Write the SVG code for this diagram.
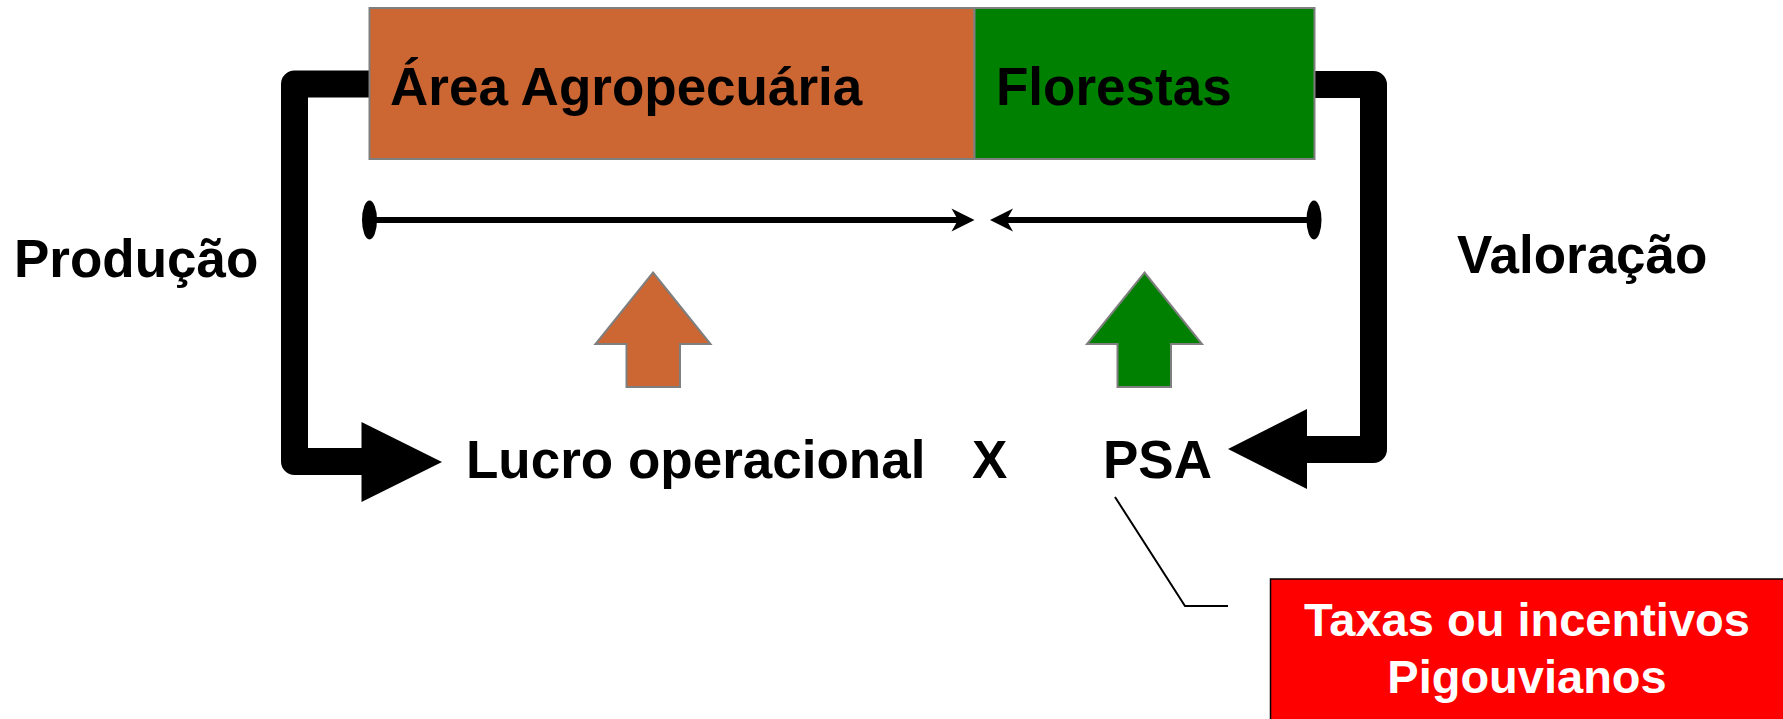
<svg xmlns="http://www.w3.org/2000/svg" width="1783" height="719" viewBox="0 0 1783 719">
<style>
.t{font-family:"Liberation Sans",Arial,sans-serif;font-weight:bold;font-size:53px;fill:#000}
.w{font-family:"Liberation Sans",Arial,sans-serif;font-weight:bold;font-size:47px;fill:#fff}
.box{stroke:#7f7f7f;stroke-width:2}
.thick{fill:none;stroke:#000;stroke-width:27;stroke-linejoin:round;stroke-linecap:butt}
.thin{fill:none;stroke:#000;stroke-width:6}
.up{stroke:#7f7f7f;stroke-width:2}
</style>
<rect width="1783" height="719" fill="#fff"/>
<g id="connectors">
<path class="thick" d="M370 84 H294.5 V461.5 H363"/>
<polygon points="361.5,422 442,462 361.5,502" fill="#000"/>
<path class="thick" d="M1314 84.5 H1373.5 V449.5 H1306"/>
<polygon points="1307,409 1228,449 1307,489" fill="#000"/>
<line class="thin" x1="369.5" y1="220" x2="960" y2="220"/>
<polygon points="974.5,220 951.5,208.5 958,220 951.5,231.5" fill="#000"/>
<ellipse cx="369.5" cy="220" rx="7.5" ry="19.5" fill="#000"/>
<line class="thin" x1="1314" y1="220" x2="1004" y2="220"/>
<polygon points="990,220 1013,208.5 1006.5,220 1013,231.5" fill="#000"/>
<ellipse cx="1314" cy="220" rx="7.5" ry="19.5" fill="#000"/>
<polyline points="1115,497 1185,606 1228,606" fill="none" stroke="#000" stroke-width="2"/>
</g>
<g id="area">
<rect class="box" x="369.5" y="8" width="605" height="151" fill="#cc6633"/>
<text class="t" x="390" y="105">Área Agropecuária</text>
</g>
<g id="florestas">
<rect class="box" x="974.5" y="8" width="340" height="151" fill="#008000"/>
<text class="t" x="996" y="105">Florestas</text>
</g>
<g id="producao"><text class="t" x="14" y="277" font-size="52">Produção</text></g>
<g id="valoracao"><text class="t" x="1457" y="273">Valoração</text></g>
<g id="up-orange"><polygon class="up" fill="#cc6633" points="653,272.5 710.5,344 680,344 680,387 626.5,387 626.5,344 595.5,344"/></g>
<g id="up-green"><polygon class="up" fill="#008000" points="1144.5,272.5 1202,344 1171,344 1171,387 1117.5,387 1117.5,344 1087,344"/></g>
<g id="lucro"><text class="t" x="466" y="478">Lucro operacional</text></g>
<g id="x"><text class="t" x="972" y="478">X</text></g>
<g id="psa"><text class="t" x="1103" y="478">PSA</text></g>
<g id="taxas">
<rect x="1270.5" y="579" width="520" height="160" fill="#ff0000" stroke="#000" stroke-width="1.5"/>
<text class="w" x="1527" y="636" text-anchor="middle">Taxas ou incentivos</text>
<text class="w" x="1527" y="693" text-anchor="middle">Pigouvianos</text>
</g>
</svg>
